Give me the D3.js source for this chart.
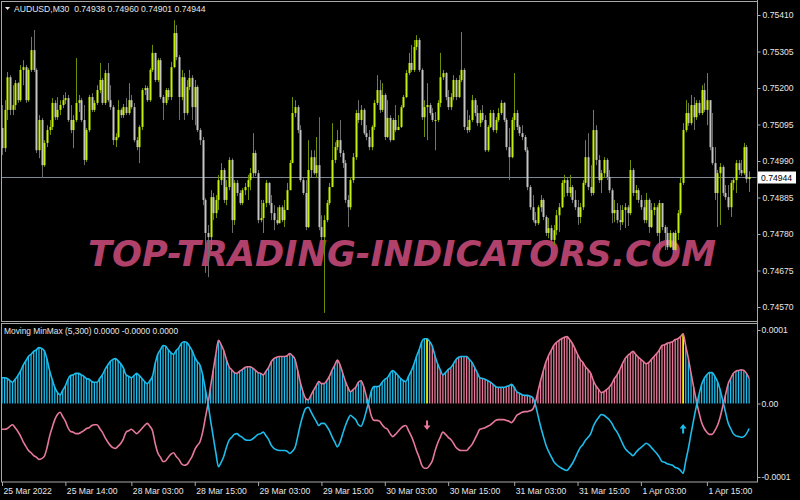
<!DOCTYPE html>
<html><head><meta charset="utf-8">
<script src="https://cdn.jsdelivr.net/npm/d3@7/dist/d3.min.js"></script>
<style>html,body{margin:0;padding:0;background:#000;}svg{display:block;}</style>
</head><body>
<svg id="chart" width="800" height="500"></svg>
<script>
// ---------- DATA ----------
const symbol = "AUDUSD,M30";
const lastBarOHLC = ["0.74938", "0.74960", "0.74901", "0.74944"];
const currentPrice = 0.74944;
const POINT = 0.00001;            // price arrays are in points (1e-5)
const firstOpen = 75085;
const closes = [
75027,75137,75231,75137,75151,75214,75165,75252,75260,75165,
75252,75309,75252,75021,75108,74978,75042,75079,75088,75157,
75116,75137,75151,75165,75171,75108,75079,75108,75157,75165,
75108,74993,75079,75174,75137,75157,75194,75223,75157,75243,
75165,75145,75050,75059,75137,75122,75145,75128,75165,75145,
75050,75030,75088,75194,75200,75165,75252,75301,75223,75280,
75174,75157,75194,75174,75260,75358,75289,75174,75231,75128,
75203,75229,75145,75203,75079,75050,74878,74783,74771,74886,
74840,74878,74935,74964,74878,74915,74993,74820,74927,74898,
74869,74906,74915,74935,74955,75013,74955,74820,74826,74869,
74927,74869,74840,74820,74811,74857,74820,74849,74906,74984,
75128,75145,75079,74935,74898,74800,74964,75001,74955,74978,
74800,74771,74820,74869,74915,74993,75030,75050,75013,74984,
74878,74857,74935,75001,75128,75108,75137,75070,75059,75030,
75088,75157,75194,75137,75180,75059,75114,75050,75108,75079,
75088,75145,75174,75243,75272,75252,75318,75338,75252,75116,
75145,75151,75128,75108,75108,75157,75231,75243,75174,75145,
75174,75223,75174,75223,75252,75088,75079,75108,75165,75128,
75099,75128,75108,75021,75088,75128,75079,75108,75128,75157,
75108,75030,75001,75108,75128,75088,75070,75059,75021,74915,
74857,74820,74811,74857,74878,74829,74783,74797,74763,74791,
74834,74857,74927,74935,74898,74915,74878,74857,74829,74857,
74927,75001,74915,74898,75079,74993,74935,74955,74993,74944,
74906,74840,74849,74820,74814,74849,74857,74840,74964,74898,
74906,74878,74857,74820,74878,74800,74849,74857,74783,74869,
74800,74783,74742,74783,74734,74783,74840,74927,75079,75128,
75099,75151,75116,75157,75128,75194,75137,75165,75030,74984,
74898,74955,74973,74898,74886,74857,74927,74935,74984,74964,
74955,75030,74938,74944];
const highs = [
75151,75165,75246,75237,75208,75223,75217,75266,75280,75266,
75257,75347,75367,75257,75122,75114,75050,75093,75108,75171,
75165,75174,75165,75180,75188,75180,75151,75122,75286,75180,
75171,75151,75085,75180,75185,75165,75208,75272,75229,75252,
75272,75208,75151,75070,75165,75142,75154,75171,75214,75180,
75157,75059,75093,75200,75208,75206,75257,75324,75295,75286,
75286,75180,75200,75200,75275,75395,75381,75295,75252,75243,
75223,75252,75237,75223,75208,75085,75059,74883,74806,74906,
74898,74892,74950,74984,74970,74935,75001,74998,74935,74935,
74906,74912,74927,74950,74970,75070,75021,74964,74878,74878,
74935,74929,74892,74863,74857,74863,74863,74878,74927,74993,
75174,75165,75151,75093,74941,74935,75050,75021,75021,75059,
75116,74834,74834,74878,74927,75099,75044,75079,75108,75021,
74993,74892,74944,75013,75137,75165,75151,75142,75093,75079,
75093,75165,75237,75223,75214,75185,75165,75122,75114,75151,
75122,75151,75180,75252,75301,75324,75338,75352,75344,75257,
75165,75214,75157,75142,75131,75165,75301,75252,75246,75194,
75185,75237,75229,75237,75361,75257,75137,75122,75180,75171,
75151,75137,75151,75122,75093,75137,75137,75116,75142,75165,
75160,75114,75085,75116,75243,75137,75093,75093,75065,75030,
74921,74892,74843,74863,74892,74883,74834,74826,74806,74806,
74849,74869,74935,74950,74941,74950,74921,74906,74878,74869,
74935,75050,75070,74978,75137,75093,75007,74964,75001,74998,
74964,74912,74878,74869,74863,74863,74869,74863,74993,74970,
74921,74912,74892,74878,74898,74883,74869,74869,74863,74878,
74869,74806,74800,74791,74786,74791,74849,74941,75099,75165,
75157,75180,75174,75165,75165,75208,75214,75243,75165,75128,
75030,74964,74984,74978,74921,74921,74935,74944,74993,74993,
74993,75042,75036,74960];
const lows = [
75007,75016,75108,75122,75122,75137,75157,75160,75208,75157,
75160,75246,75246,75013,74998,74941,74973,75030,75065,75079,
75108,75108,75122,75142,75154,75102,75070,75027,75102,75131,
75102,74978,74987,75073,75131,75131,75151,75185,75151,75151,
75160,75137,75036,75030,75056,75114,75114,75122,75122,75139,
75044,75021,74984,75079,75180,75160,75160,75246,75217,75217,
75168,75108,75151,75165,75165,75257,75280,75108,75165,75108,
75122,75194,75108,75093,75073,75036,74863,74668,74656,74734,
74820,74826,74849,74921,74869,74863,74906,74783,74806,74889,
74863,74863,74892,74878,74906,74944,74947,74811,74814,74783,
74857,74863,74820,74791,74806,74820,74814,74800,74849,74906,
74984,75116,75070,74929,74892,74791,74797,74944,74950,74941,
74791,74748,74553,74814,74863,74915,74984,75021,75001,74970,
74869,74800,74849,74927,74993,75099,75093,75065,75050,75021,
75021,75079,75151,75128,75131,75050,75056,75044,75050,75073,
75079,75085,75142,75171,75237,75246,75246,75309,75246,75108,
75059,75050,75122,75102,75021,75102,75145,75223,75165,75137,
75137,75165,75165,75171,75217,75079,75070,75073,75102,75119,
75091,75088,75102,75016,75016,75085,75073,75070,75102,75122,
75102,75021,74935,74998,75079,75079,75062,75050,75016,74906,
74849,74814,74803,74806,74843,74820,74774,74768,74705,74748,
74777,74786,74855,74886,74889,74886,74869,74849,74806,74811,
74849,74921,74906,74889,74892,74978,74927,74898,74941,74935,
74898,74811,74814,74811,74791,74806,74797,74803,74834,74889,
74878,74869,74849,74811,74811,74783,74797,74834,74774,74734,
74791,74734,74734,74740,74725,74728,74763,74834,74921,75073,
75091,75093,75079,75108,75122,75122,75131,75093,75021,74978,
74878,74800,74806,74889,74878,74849,74829,74906,74898,74950,
74947,74950,74927,74901];

// Moving MinMax (5,300) values, in units of 1e-6
const IND_UNIT = 1e-6;
const minmaxValues = [
35,35,34,31,29,33,38,44,52,58,
64,67,71,73,76,75,72,61,45,33,
22,15,12,18,24,33,38,39,41,41,
39,37,34,33,30,29,29,34,39,46,
52,57,60,61,58,54,48,39,37,35,
38,41,38,34,30,27,31,37,54,67,
73,79,78,73,69,67,72,76,82,84,
83,78,72,63,57,52,39,20,1,-23,
-45,-67,-86,-80,-72,-60,-50,-46,-42,-41,
-44,-46,-49,-50,-50,-48,-45,-42,-41,-39,
-44,-49,-57,-61,-63,-64,-64,-64,-65,-68,
-65,-60,-45,-29,-16,-7,-5,-11,-18,-24,
-30,-27,-27,-31,-37,-45,-52,-59,-53,-42,
-31,-22,-16,-19,-22,-29,-31,-23,-10,4,
18,23,23,24,29,33,35,41,45,42,
38,34,31,30,37,44,53,64,73,84,
88,88,84,78,65,54,46,39,42,46,
49,54,60,63,64,64,64,60,56,49,
42,35,34,33,31,29,26,23,22,22,
22,23,24,26,22,16,14,12,11,11,
10,8,-1,-16,-31,-44,-56,-65,-72,-79,
-83,-86,-88,-90,-91,-87,-82,-75,-67,-60,
-56,-50,-46,-41,-31,-24,-19,-15,-16,-19,
-22,-27,-34,-39,-46,-54,-61,-65,-68,-71,
-67,-63,-60,-57,-54,-56,-60,-64,-68,-73,
-79,-80,-82,-83,-84,-87,-88,-91,-95,-78,
-61,-41,-22,-4,12,26,34,39,42,42,
37,30,19,4,-11,-26,-34,-41,-44,-45,
-46,-45,-41,-34];
const histogramStates = [
  {from: 0,   to: 160, state: "up"},
  {from: 162, to: 257, state: "down"},
  {from: 259, to: 283, state: "up"}
];
const signals = [{bar: 161, dir: "down"}, {bar: 258, dir: "up"}];
const indName = "Moving MinMax (5,300) 0.0000 -0.0000 0.0000";

const priceTickLabels = ["0.75410","0.75305","0.75200","0.75095","0.74990","0.74885","0.74780","0.74675","0.74570"];
const indTickValues = [0.0001, 0, -0.0001];
const indTickLabels = ["0.0001", "0.00", "-0.0001"];
const timeTickBars = [0, 24, 49, 73, 97, 121, 145, 169, 194, 218, 242, 267];
const timeTickLabels = ["25 Mar 2022","25 Mar 14:00","28 Mar 03:00","28 Mar 15:00","29 Mar 03:00","29 Mar 15:00","30 Mar 03:00","30 Mar 15:00","31 Mar 03:00","31 Mar 15:00","1 Apr 03:00","1 Apr 15:00"];
const watermark = "TOP-TRADING-INDICATORS.COM";

// ---------- STYLE ----------
const C = {
  bg: "#000000", frame: "#a8a8a8", text: "#e6e6e6",
  bullBody: "#c4f200", bullWick: "#6f8f00",
  bearBody: "#c4c4c4", bearWick: "#6c6c6c",
  priceLine: "#7a8898",
  blue: "#1cbdec", pink: "#e6789a", yellow: "#ffff00",
  mark: "#b0416b"
};
const FONT = "'Liberation Sans', Arial, sans-serif";
const plotRight = 757;
const main = {top: 1, bottom: 321};
const ind = {top: 323.5, bottom: 482};

const N = closes.length;
const svg = d3.select("#chart");
svg.append("rect").attr("width", 800).attr("height", 500).attr("fill", C.bg);

const x = d3.scaleLinear().domain([0, N - 1]).range([2, 2 + 2.64 * (N - 1)]);
const y = d3.scaleLinear().domain([+priceTickLabels[priceTickLabels.length - 1], +priceTickLabels[0]]).range([307, 15]);
const yi = d3.scaleLinear().domain([-0.0001, 0.0001]).range([477, 330]);

const defs = svg.append("defs");
defs.append("clipPath").attr("id", "clipMain").append("rect")
  .attr("x", 1.5).attr("y", main.top + 0.5).attr("width", plotRight - 2).attr("height", main.bottom - main.top - 1);
defs.append("clipPath").attr("id", "clipInd").append("rect")
  .attr("x", 1.5).attr("y", ind.top + 0.5).attr("width", plotRight - 2).attr("height", ind.bottom - ind.top - 1);

// ---------- MAIN PANEL ----------
const gMain = svg.append("g").attr("clip-path", "url(#clipMain)");

// watermark
gMain.append("text")
  .attr("x", 88).attr("y", 265.5)
  .attr("textLength", 628).attr("lengthAdjust", "spacingAndGlyphs")
  .attr("font-family", "'DejaVu Sans', sans-serif")
  .attr("font-size", 35.5).attr("font-weight", "bold").attr("font-style", "italic")
  .attr("fill", C.mark).text(watermark);

// current price line
gMain.append("line")
  .attr("x1", 0).attr("x2", plotRight)
  .attr("y1", Math.round(y(currentPrice)) + 0.5).attr("y2", Math.round(y(currentPrice)) + 0.5)
  .attr("stroke", C.priceLine).attr("stroke-width", 1);

const candles = closes.map((c, i) => {
  const o = i === 0 ? firstOpen : closes[i - 1];
  return {i, o: o * POINT, c: c * POINT,
          h: Math.max(highs[i], o, c) * POINT, l: Math.min(lows[i], o, c) * POINT, bull: c >= o};
});

gMain.append("g").selectAll("line").data(candles).join("line")
  .attr("x1", d => Math.round(x(d.i)) + 0.5).attr("x2", d => Math.round(x(d.i)) + 0.5)
  .attr("y1", d => y(d.h)).attr("y2", d => y(d.l))
  .attr("stroke", d => d.bull ? C.bullWick : C.bearWick).attr("stroke-width", 1);

gMain.append("g").selectAll("rect").data(candles).join("rect")
  .attr("x", d => Math.round(x(d.i)) - 0.5)
  .attr("width", 2)
  .attr("y", d => y(Math.max(d.o, d.c)))
  .attr("height", d => Math.max(1, Math.abs(y(d.o) - y(d.c))))
  .attr("fill", d => d.bull ? C.bullBody : C.bearBody);

// header
svg.append("path").attr("d", "M5,7 L10,7 L7.5,10 Z").attr("fill", C.text);
svg.append("text").attr("x", 14).attr("y", 12)
  .attr("font-family", FONT).attr("font-size", 8.6).attr("fill", C.text)
  .attr("xml:space", "preserve")
  .text(symbol + "  " + lastBarOHLC.join(" "));

// ---------- INDICATOR PANEL ----------
const gInd = svg.append("g").attr("clip-path", "url(#clipInd)");
const stateOf = i => {
  if (signals.some(s => s.bar === i)) return "signal";
  const seg = histogramStates.find(s => i >= s.from && i <= s.to);
  return seg ? seg.state : "up";
};
const colorOf = st => st === "signal" ? C.yellow : (st === "down" ? C.pink : C.blue);

gInd.append("g").selectAll("line").data(minmaxValues.map((v, i) => ({i, v: v * IND_UNIT})))
  .join("line")
  .attr("x1", d => x(d.i)).attr("x2", d => x(d.i))
  .attr("y1", yi(0)).attr("y2", d => yi(Math.abs(d.v)))
  .attr("stroke", d => colorOf(stateOf(d.i)))
  .attr("stroke-width", d => stateOf(d.i) === "signal" ? 1.7 : 1.3);

const lineGen = d3.line().x((d, i) => x(i)).y(d => yi(d)).curve(d3.curveMonotoneX);
gInd.append("path").datum(minmaxValues.map(v => -v * IND_UNIT))
  .attr("d", lineGen).attr("fill", "none").attr("stroke", C.pink).attr("stroke-width", 1.6);
gInd.append("path").datum(minmaxValues.map(v => v * IND_UNIT))
  .attr("d", lineGen).attr("fill", "none").attr("stroke", C.blue).attr("stroke-width", 1.6);

// signal arrows
signals.forEach(s => {
  const cx = x(s.bar);
  const g = gInd.append("g");
  if (s.dir === "down") {
    const cy = yi(0) + 22;
    g.append("path").attr("d", `M${cx - 1},${cy - 5} h2 v5 h2.5 l-3.5,4.5 l-3.5,-4.5 h2.5 z`).attr("fill", C.pink);
  } else {
    const cy = yi(0) + 25;
    g.append("path").attr("d", `M${cx - 1},${cy + 5} h2 v-5 h2.5 l-3.5,-4.5 l-3.5,4.5 h2.5 z`).attr("fill", C.blue);
  }
});

svg.append("text").attr("x", 4).attr("y", 334)
  .attr("font-family", FONT).attr("font-size", 8.4).attr("fill", C.text).text(indName);

// ---------- FRAMES ----------
const frame = svg.append("g").attr("fill", "none").attr("stroke", C.frame).attr("stroke-width", 1);
frame.append("rect").attr("x", 1.5).attr("y", main.top + 0.5).attr("width", plotRight - 1).attr("height", main.bottom - main.top);
frame.append("rect").attr("x", 1.5).attr("y", ind.top).attr("width", plotRight - 1).attr("height", ind.bottom - ind.top);

// ---------- AXES ----------
const priceAxis = d3.axisRight(y).tickValues(priceTickLabels.map(Number))
  .tickFormat((d, i) => priceTickLabels[i]).tickSize(3).tickPadding(2);
const gpa = svg.append("g").attr("transform", `translate(${plotRight + 0.5},0)`).call(priceAxis);
gpa.select(".domain").remove();
gpa.selectAll("line").attr("stroke", C.frame);
gpa.selectAll("text").attr("fill", C.text).attr("font-family", FONT).attr("font-size", 8.6);

// current price label
const yp = Math.round(y(currentPrice)) + 0.5;
svg.append("rect").attr("x", 758).attr("y", yp - 6).attr("width", 38).attr("height", 12).attr("fill", "#ffffff");
svg.append("text").attr("x", 761).attr("y", yp + 3.2)
  .attr("font-family", FONT).attr("font-size", 8.6).attr("fill", "#000").text(currentPrice.toFixed(5));

const indAxis = d3.axisRight(yi).tickValues(indTickValues)
  .tickFormat((d, i) => indTickLabels[i]).tickSize(3).tickPadding(1);
const gia = svg.append("g").attr("transform", `translate(${plotRight + 0.5},0)`).call(indAxis);
gia.select(".domain").remove();
gia.selectAll("line").attr("stroke", C.frame);
gia.selectAll("text").attr("fill", C.text).attr("font-family", FONT).attr("font-size", 8.6);

const timeAxis = d3.axisBottom(x).tickValues(timeTickBars)
  .tickFormat((d, i) => timeTickLabels[i]).tickSize(4).tickPadding(2);
const gta = svg.append("g").attr("transform", `translate(0,${ind.bottom})`).call(timeAxis);
gta.select(".domain").remove();
gta.selectAll("line").attr("stroke", C.frame);
gta.selectAll("text").attr("fill", C.text).attr("font-family", FONT).attr("font-size", 8.6)
  .attr("text-anchor", "start").attr("dx", 1);

// right axis vertical line
svg.append("line").attr("x1", plotRight + 0.5).attr("x2", plotRight + 0.5).attr("y1", 0).attr("y2", ind.bottom)
  .attr("stroke", C.frame);
</script>
</body></html>
